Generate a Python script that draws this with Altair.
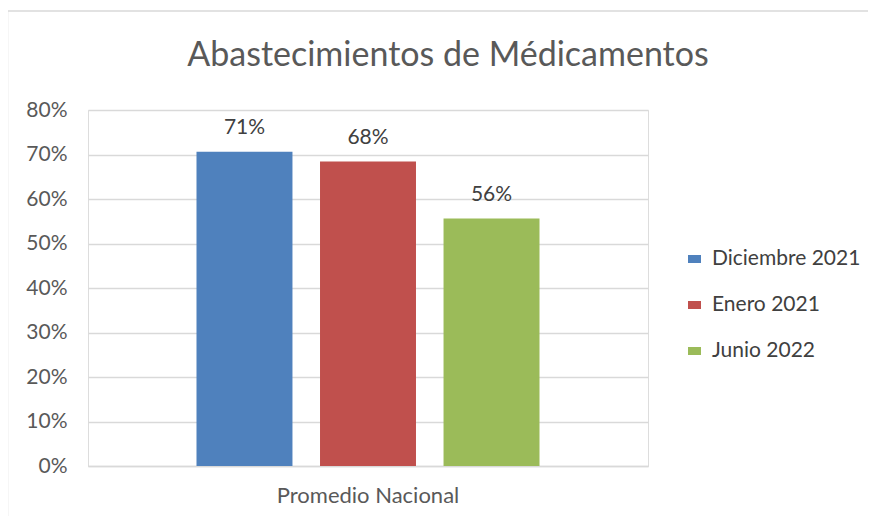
import altair as alt
import pandas as pd

categories = ["Promedio Nacional"]
series = ["Diciembre 2021", "Enero 2021", "Junio 2022"]
values = [0.706, 0.684, 0.556]
colors = ["#4F81BD", "#C0504D", "#9BBB59"]
y_ticks = [0, 0.1, 0.2, 0.3, 0.4, 0.5, 0.6, 0.7, 0.8]

df = pd.DataFrame({
    "cat": [categories[0]] * len(series),
    "serie": series,
    "valor": values,
})

FONT = "Lato"
GRID = "#d9d9d9"
TXT = "#595959"
FS = 21

x = alt.X("cat:N", title=None,
          scale=alt.Scale(paddingOuter=0.3163, paddingInner=0),
          axis=alt.Axis(labelAngle=0, labelFontSize=22, labelPadding=19,
                        labelLimit=400,
                        labelColor=TXT, labelFont=FONT, ticks=False,
                        domainColor=GRID, domainWidth=1.5, grid=False))
xo = alt.XOffset("serie:N", sort=series,
                 scale=alt.Scale(paddingInner=0.223, paddingOuter=0))
y = alt.Y("valor:Q", title=None,
          scale=alt.Scale(domain=[0, 0.8], nice=False),
          axis=alt.Axis(values=y_ticks, format=".0%", labelFontSize=FS,
                        labelColor=TXT, labelFont=FONT, labelPadding=21,
                        ticks=False, domain=False, gridColor=GRID,
                        gridWidth=1.5))
color = alt.Color("serie:N", sort=series,
                  scale=alt.Scale(domain=series, range=colors),
                  legend=alt.Legend(title=None, orient="none", legendX=596,
                                    legendY=138.5,
                                    symbolType="M-1,-0.62L1,-0.62L1,0.62L-1,0.62Z",
                                    symbolSize=169, symbolStrokeWidth=0,
                                    labelFontSize=FS, labelColor="#404040",
                                    labelFont=FONT, labelOffset=7,
                                    labelLimit=300, rowPadding=24))

bars = alt.Chart(df).mark_bar(opacity=1).encode(x=x, xOffset=xo, y=y, color=color)
labels = alt.Chart(df).mark_text(baseline="alphabetic", dy=-18, fontSize=FS,
                                 color="#404040", font=FONT).encode(
    x=x, xOffset=xo, y=y, text=alt.Text("valor:Q", format=".0%"))

frame_df = pd.DataFrame({"a": [0]})
left_line = alt.Chart(frame_df).mark_rule(color="#d9d9d9", strokeWidth=1.5).encode(
    x=alt.value(-80.5), y=alt.value(-99), y2=alt.value(420))
top_line = alt.Chart(frame_df).mark_rule(color="#d9d9d9", strokeWidth=1.5).encode(
    x=alt.value(-80.5), x2=alt.value(800), y=alt.value(-99))

chart = alt.layer(left_line, top_line, bars, labels).properties(
    width=560, height=356,
    title=alt.TitleParams("Abastecimientos de Médicamentos", anchor="middle",
                          dx=80, fontSize=34, font=FONT, fontWeight="normal",
                          color=TXT, offset=-63),
    autosize=alt.AutoSizeParams(type="none"),
    padding={"left": 80, "top": 102, "right": 220, "bottom": 50},
).configure_view(stroke=None).configure(background="white")

chart.save("out.html", embed_options={"renderer": "svg", "actions": False})
